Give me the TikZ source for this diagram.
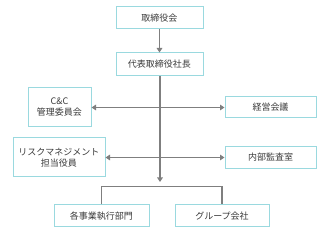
\documentclass[tikz,border=0pt]{standalone}
\usepackage{fontspec}
\setmainfont{Noto Sans CJK JP}
\usetikzlibrary{arrows.meta}
\definecolor{boxcyan}{HTML}{9AD9DF}
\definecolor{linegray}{HTML}{7F7F7F}
\definecolor{textgray}{HTML}{3A3A3A}

\begin{document}
\begin{tikzpicture}[x=1pt,y=-1pt,
	orgbox/.style={draw=boxcyan, line width=1pt, fill=white, text=textgray,
		inner sep=0pt, align=center, font=\fontsize{9}{11}\selectfont},
	link/.style={draw=linegray, line width=1.4pt},
	tip/.style={-{Triangle[length=4.5pt,width=5.5pt]}},
	bothtips/.style={{Triangle[length=4.5pt,width=5.5pt]}-{Triangle[length=4.5pt,width=5.5pt]}}]
	\useasboundingbox (0,0) rectangle (333,238);
	% boxes
	\node[orgbox, minimum width=87pt, minimum height=22pt] (board) at (159.5,18) {取締役会};
	\node[orgbox, minimum width=87pt, minimum height=23pt] (ceo) at (159.5,64.5) {代表取締役社長};
	\node[orgbox, minimum width=63pt, minimum height=39pt] (cc) at (59.5,107.5) {C\&C\\管理委員会};
	\node[orgbox, minimum width=91pt, minimum height=21pt] (mgmt) at (270.5,107.5) {経営会議};
	\node[orgbox, minimum width=92pt, minimum height=39pt] (risk) at (59,157.5) {リスクマネジメント\\担当役員};
	\node[orgbox, minimum width=91pt, minimum height=22pt] (audit) at (270.5,157.5) {内部監査室};
	\node[orgbox, minimum width=95pt, minimum height=22pt] (dept) at (101.5,216) {各事業執行部門};
	\node[orgbox, minimum width=94pt, minimum height=22pt] (group) at (222,216) {グループ会社};
	\coordinate (split) at (160,182);
	\coordinate (bar) at (160,186.5);
	% connectors
	\draw[link, tip] (board) -- (ceo);
	\draw[link, tip] (ceo.south -| split) -- (split);
	\draw[link, bothtips] (cc.east) -- (mgmt.west);
	\draw[link, bothtips] (risk.east) -- (audit.west);
	\draw[link] (dept.north) |- (bar) -| (group.north);
\end{tikzpicture}
\end{document}
